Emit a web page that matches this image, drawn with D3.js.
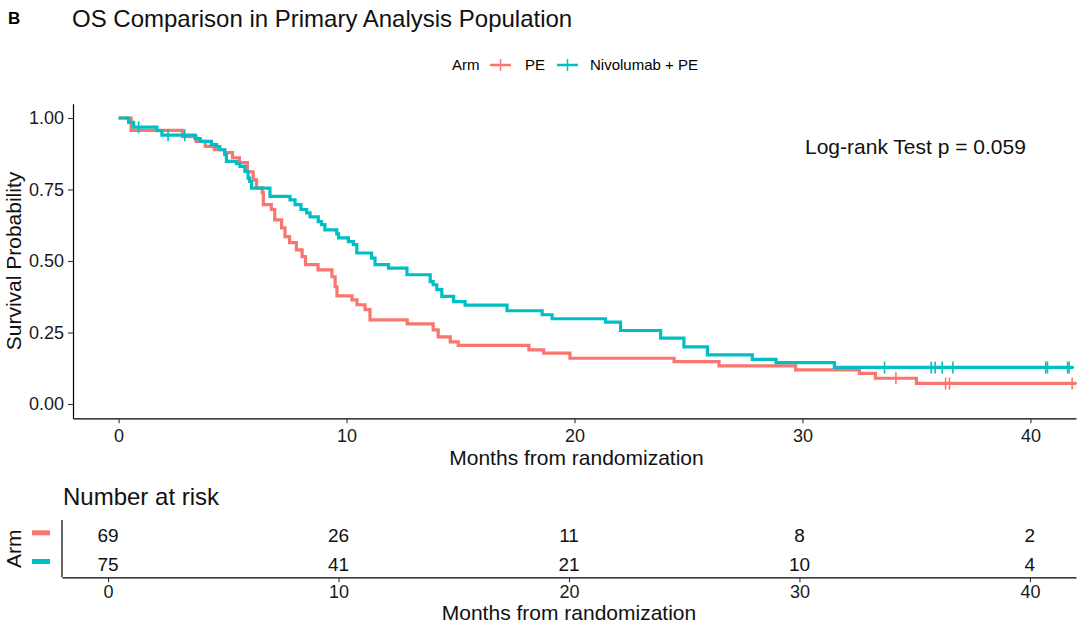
<!DOCTYPE html>
<html>
<head>
<meta charset="utf-8">
<script src="https://cdn.jsdelivr.net/npm/d3@7"></script>
<style>
  body { margin: 0; background: #fff; }
  svg { font-family: "Liberation Sans", Arial, Helvetica, sans-serif; }
</style>
</head>
<body>
<script>
const width = 1080;
const height = 629;

// KM step points: time (months) and survival after the step
const peTimes = [0, 0.55, 2.8, 3.4, 3.8, 4.2, 4.65, 5.0, 5.3, 5.65, 5.9, 6.05, 6.3, 6.35, 6.7, 6.85,
  7.15, 7.3, 7.5, 7.8, 8.05, 8.2, 8.75, 9.36, 9.5, 9.58, 10.24, 10.46, 10.81, 11.03, 12.66, 13.8,
  14.02, 14.55, 14.9, 18.0, 18.65, 19.8, 24.37, 26.34, 29.7, 32.5, 33.2, 35.0];
const peSurv = [1, 0.957, 0.935, 0.918, 0.901, 0.889, 0.879, 0.861, 0.844, 0.812, 0.784, 0.756, 0.739, 0.697, 0.68, 0.644,
  0.616, 0.585, 0.564, 0.539, 0.515, 0.487, 0.469, 0.445, 0.41, 0.378, 0.364, 0.347, 0.33, 0.294, 0.28, 0.259,
  0.235, 0.217, 0.205, 0.189, 0.178, 0.16, 0.148, 0.133, 0.119, 0.107, 0.09, 0.072];
const peEnd = 42.0;
const peCensor = [34.1, 36.28, 36.45, 41.83];

const nivoTimes = [0, 0.44, 0.66, 1.68, 1.9, 3.36, 3.58, 4.07, 4.3, 4.44, 4.66, 4.73, 5.17, 5.32, 5.54, 5.68,
  5.75, 5.83, 6.64, 7.52, 7.74, 8.0, 8.25, 8.4, 8.76, 8.9, 9.05, 9.57, 9.65, 10.08, 10.3, 10.45, 11.1,
  11.25, 11.84, 12.65, 13.67, 13.8, 13.96, 14.18, 14.7, 15.2, 17.04, 18.58, 19.02, 21.36, 22.02, 23.78,
  24.8, 25.83, 27.8, 28.84, 31.4];
const nivoSurv = [1, 0.985, 0.968, 0.956, 0.94, 0.928, 0.918, 0.907, 0.9, 0.889, 0.872, 0.848, 0.84, 0.831, 0.813, 0.79,
  0.778, 0.755, 0.726, 0.714, 0.697, 0.68, 0.668, 0.654, 0.638, 0.627, 0.609, 0.595, 0.581, 0.568, 0.557, 0.528, 0.51,
  0.487, 0.475, 0.452, 0.428, 0.417, 0.4, 0.376, 0.358, 0.346, 0.326, 0.312, 0.298, 0.286, 0.257, 0.23,
  0.2, 0.172, 0.156, 0.145, 0.128];
const nivoEnd = 41.87;
const nivoCensor = [0.88, 2.17, 2.9, 33.6, 35.65, 35.82, 36.13, 36.6, 40.67, 40.75, 41.63, 41.7];

const armNames = ["PE", "Nivolumab + PE"];
const armColors = ["#F8766D", "#00BFC4"];
const xTicks = [0, 10, 20, 30, 40];
const yTicks = [0, 0.25, 0.5, 0.75, 1];
const riskTimes = [0, 10, 20, 30, 40];
const peRisk = [69, 26, 11, 8, 2];
const nivoRisk = [75, 41, 21, 10, 4];

const arms = [
  { times: peTimes, surv: peSurv, end: peEnd, censor: peCensor, risk: peRisk, color: armColors[0] },
  { times: nivoTimes, surv: nivoSurv, end: nivoEnd, censor: nivoCensor, risk: nivoRisk, color: armColors[1] }
];

const svg = d3.select("body").append("svg")
  .attr("width", width)
  .attr("height", height);

// header
svg.append("text").attr("x", 8).attr("y", 24)
  .attr("font-size", 17).attr("font-weight", "bold").text("B");
svg.append("text").attr("x", 72).attr("y", 27)
  .attr("font-size", 24).attr("fill", "#111").text("OS Comparison in Primary Analysis Population");

// legend
const legend = svg.append("g").attr("font-size", 15);
legend.append("text").attr("x", 452).attr("y", 65).attr("dy", "0.35em").text("Arm");
const legendX = [[490, 525], [557, 590]];
arms.forEach((a, i) => {
  const [kx, tx] = legendX[i];
  legend.append("line").attr("x1", kx).attr("x2", kx + 21).attr("y1", 65).attr("y2", 65)
    .attr("stroke", a.color).attr("stroke-width", 2.5);
  legend.append("line").attr("x1", kx + 10.5).attr("x2", kx + 10.5).attr("y1", 59).attr("y2", 71)
    .attr("stroke", a.color).attr("stroke-width", 1.5);
  legend.append("text").attr("x", tx).attr("y", 65).attr("dy", "0.35em").text(armNames[i]);
});

// main KM panel
const x = d3.scaleLinear().domain([-2, 42]).range([73, 1076]);
const y = d3.scaleLinear().domain([-0.05, 1.05]).range([418.3, 103.7]);

const xAxis = svg.append("g").attr("transform", `translate(0,${y.range()[0]})`)
  .call(d3.axisBottom(x).tickValues(xTicks).tickSize(5).tickPadding(6).tickSizeOuter(0));
const yAxis = svg.append("g").attr("transform", `translate(${x.range()[0]},0)`)
  .call(d3.axisLeft(y).tickValues(yTicks).tickFormat(d3.format(".2f")).tickSize(5).tickPadding(4).tickSizeOuter(0));
[xAxis, yAxis].forEach(g => {
  g.select(".domain").attr("stroke", "#000").attr("stroke-width", 1.2);
  g.selectAll(".tick line").attr("stroke", "#333").attr("stroke-width", 1.1);
  g.selectAll(".tick text").attr("font-size", 18).attr("fill", "#1a1a1a")
    .attr("font-family", "Liberation Sans, Arial, sans-serif");
});

const stepLine = d3.line().curve(d3.curveStepAfter).x(d => x(d[0])).y(d => y(d[1]));

arms.forEach(a => {
  const pts = a.times.map((t, i) => [t, a.surv[i]]);
  pts.push([a.end, a.surv[a.surv.length - 1]]);
  svg.append("path").datum(pts)
    .attr("fill", "none").attr("stroke", a.color).attr("stroke-width", 3.2)
    .attr("d", stepLine);
  const survAt = t => a.surv[d3.bisectRight(a.times, t) - 1];
  svg.append("g").selectAll("path").data(a.censor).join("path")
    .attr("d", t => `M${x(t) - 5},${y(survAt(t))}h10M${x(t)},${y(survAt(t)) - 6}v12`)
    .attr("stroke", a.color).attr("stroke-width", 1.6).attr("fill", "none");
});

svg.append("text").attr("x", 805).attr("y", 147).attr("dy", "0.35em")
  .attr("font-size", 21).attr("fill", "#111").text("Log-rank Test p = 0.059");

svg.append("text").attr("transform", `translate(21,${(y.range()[0] + y.range()[1]) / 2}) rotate(-90)`)
  .attr("text-anchor", "middle").attr("font-size", 21).attr("fill", "#111").text("Survival Probability");
svg.append("text").attr("x", (x(0) + x(40)) / 2 + 2).attr("y", 458).attr("dy", "0.35em")
  .attr("text-anchor", "middle").attr("font-size", 21).attr("fill", "#111").text("Months from randomization");

// number at risk table
svg.append("text").attr("x", 63).attr("y", 497).attr("dy", "0.35em")
  .attr("font-size", 24).attr("fill", "#111").text("Number at risk");

const xr = d3.scaleLinear().domain([-2, 42]).range([62, 1076]);
const yr = d3.scaleBand().domain([0, 1]).range([520, 577.3]);

const xrAxis = svg.append("g").attr("transform", `translate(0,${yr.range()[1]})`)
  .call(d3.axisBottom(xr).tickValues(xTicks).tickSize(5).tickPadding(3).tickSizeOuter(0));
xrAxis.select(".domain").attr("stroke", "#000").attr("stroke-width", 1.2);
xrAxis.selectAll(".tick line").attr("stroke", "#333").attr("stroke-width", 1.1);
xrAxis.selectAll(".tick text").attr("font-size", 18).attr("fill", "#1a1a1a")
  .attr("font-family", "Liberation Sans, Arial, sans-serif");
svg.append("line").attr("x1", xr.range()[0]).attr("x2", xr.range()[0])
  .attr("y1", yr.range()[0]).attr("y2", yr.range()[1])
  .attr("stroke", "#000").attr("stroke-width", 1.2);

arms.forEach((a, i) => {
  const cy = yr(i) + yr.bandwidth() / 2 + 1;
  svg.append("g").selectAll("text").data(riskTimes).join("text")
    .attr("x", t => xr(t)).attr("y", cy).attr("dy", "0.35em")
    .attr("text-anchor", "middle").attr("font-size", 19).attr("fill", "#111")
    .text((t, j) => a.risk[j]);
  svg.append("line").attr("x1", 32).attr("x2", 50).attr("y1", cy - 2.5).attr("y2", cy - 2.5)
    .attr("stroke", a.color).attr("stroke-width", 5);
});

svg.append("text").attr("transform", `translate(21,${(yr.range()[0] + yr.range()[1]) / 2}) rotate(-90)`)
  .attr("text-anchor", "middle").attr("font-size", 21).attr("fill", "#111").text("Arm");
svg.append("text").attr("x", (xr(0) + xr(40)) / 2).attr("y", 613).attr("dy", "0.35em")
  .attr("text-anchor", "middle").attr("font-size", 21).attr("fill", "#111").text("Months from randomization");
</script>
</body>
</html>
